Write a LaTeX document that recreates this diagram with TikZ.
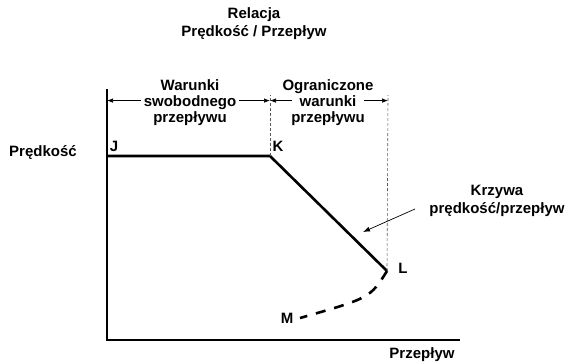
\documentclass[tikz,border=0pt]{standalone}
\usepackage{fontspec}
\setmainfont{Liberation Sans}
\usetikzlibrary{arrows.meta, positioning}

\begin{document}
\begin{tikzpicture}[x=1pt, y=-1pt,
  lbl/.style = {font=\bfseries\fontsize{15}{18}\selectfont, inner sep=1pt},
  txt/.style = {font=\bfseries\fontsize{15}{18}\selectfont, align=center, inner sep=0pt},
  row/.style = {lbl, anchor=base},
  thick line/.style = {line width=2.6pt},
  guide/.style = {densely dashed, line width=0.6pt, gray!70!black},
  dim/.style = {line width=0.7pt, -{Latex[length=6pt,width=4.5pt]}}]
\useasboundingbox (0,0) rectangle (567,362);
% points of the curve
\coordinate (O) at (107,340);
\coordinate (ytop) at (107,89);
\coordinate (xend) at (460,340);
\coordinate (J) at (107,156);
\coordinate (K) at (270,156);
\coordinate (L) at (387,271);
\coordinate (M) at (300,318);
% axes
\draw[thick line] (ytop) -- (O) -- (xend);
\draw[thick line, line join=round] (J) -- (K) -- (L);
\draw[thick line, dash pattern=on 10pt off 9pt] (L) .. controls (370,298) .. (M);
% guides
\draw[guide] (K) -- (270,95) coordinate (Ktop);
\draw[guide] (L) -- (388,95) coordinate (Ltop);
% labels
\node[txt] (title) at (254,24) {Relacja\\Prędkość / Przepływ};
\node[lbl] (vlab) at (43,152) {Prędkość};
\node[lbl] (qlab) at (422,355) {Przepływ};
\node[lbl] (Jl) at (114,146) {J};
\node[lbl] (Kl) at (278,146) {K};
\node[lbl] (Ll) at (403,268) {L};
\node[lbl] (Ml) at (287,318) {M};
% regimes
\node[row] (sw1) at (190,90) {Warunki};
\node[row, inner sep=3pt, text depth=0pt] (sw) at (190,106) {swobodnego};
\node[row] (sw2) at (190,122) {przepływu};
\node[row] (og1) at (328,90) {Ograniczone};
\node[row, inner sep=7pt, text depth=0pt] (og) at (328,106) {warunki};
\node[row] (og2) at (328,122) {przepływu};
\draw[dim] (sw.west) -- (sw.west -| O);
\draw[dim] (sw.east) -- (sw.east -| Ktop);
\draw[dim] (og.west) -- (og.west -| Ktop);
\draw[dim] (og.east) -- (og.east -| Ltop);
% curve name
\node[txt] (kr) at (497,201) {Krzywa\\prędkość/przepływ};
\coordinate (ka) at (415,209);
\draw[line width=0.7pt, -{Latex[length=7pt,width=5pt]}] (ka) -- (363,232);
\end{tikzpicture}
\end{document}
